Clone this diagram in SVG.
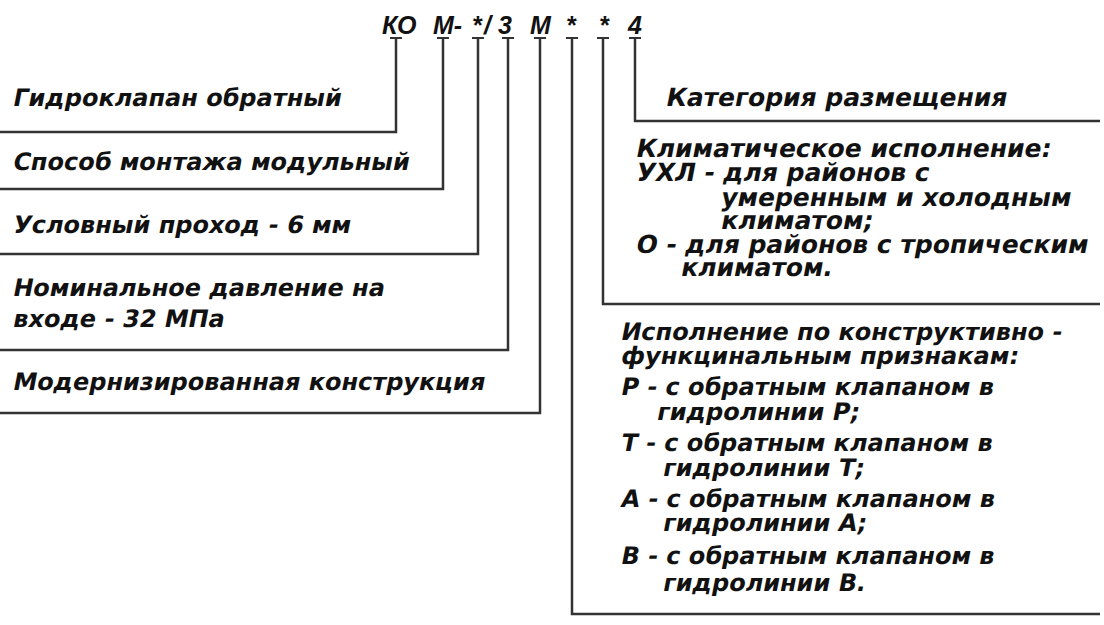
<svg xmlns="http://www.w3.org/2000/svg" width="1104" height="625" viewBox="0 0 1104 625">
<style>
.t{font-family:"DejaVu Sans","Liberation Sans",sans-serif;font-weight:bold;font-size:24px;fill:#111}
.w{font-size:25px}
.h{font-family:"Liberation Sans","DejaVu Sans",sans-serif;font-weight:bold;font-style:italic;font-size:25px;fill:#111}
.c{fill:none;stroke:#333;stroke-width:2.5}
.cap{fill:none;stroke:#333;stroke-width:2}
</style>
<rect width="1104" height="625" fill="#fff"/>
<g id="code">
<text class="h" x="382" y="34">КО</text>
<text class="h" x="433" y="34">М-</text>
<text class="h" x="472" y="34">*</text>
<text class="h" x="484" y="34">/</text>
<text class="h" x="498" y="34">3</text>
<text class="h" x="530" y="34">М</text>
<text class="h" x="566" y="34">*</text>
<text class="h" x="599" y="34">*</text>
<text class="h" x="628" y="34">4</text>
</g>
<g id="connectors">
<path class="cap" d="M390 38h12M437 38h12M472 38h12M502 38h12M534 38h12M566 38h12M597 38h12M629 38h12"/>
<path class="c" d="M396 38V132H0"/>
<path class="c" d="M443 38V189H0"/>
<path class="c" d="M478 38V254H0"/>
<path class="c" d="M508 38V350H0"/>
<path class="c" d="M540 38V413H0"/>
<path class="c" d="M572 38V614H1100"/>
<path class="c" d="M603 38V304H1100"/>
<path class="c" d="M635 38V121H1100"/>
</g>
<g id="n1"><text class="t" transform="translate(12,106) skewX(-11)">Гидроклапан обратный</text></g>
<g id="n2"><text class="t" transform="translate(12,170) skewX(-11)">Способ монтажа модульный</text></g>
<g id="n3"><text class="t" transform="translate(12,233) skewX(-11)">Условный проход - 6 мм</text></g>
<g id="n4"><text class="t" transform="translate(12,296) skewX(-11)">Номинальное давление на</text><text class="t" transform="translate(12,327) skewX(-11)">входе - 32 МПа</text></g>
<g id="n5"><text class="t" transform="translate(12,390) skewX(-11)">Модернизированная конструкция</text></g>
<g id="n6"><text class="t w" transform="translate(665,106) skewX(-11)">Категория размещения</text></g>
<g id="n7">
<text class="t w" transform="translate(635,157) skewX(-11)">Климатическое исполнение:</text>
<text class="t w" transform="translate(635,181) skewX(-11)">УХЛ - для районов с</text>
<text class="t w" transform="translate(720,206) skewX(-11)">умеренным и холодным</text>
<text class="t w" transform="translate(720,229) skewX(-11)">климатом;</text>
<text class="t w" transform="translate(635,253) skewX(-11)">О - для районов с тропическим</text>
<text class="t w" transform="translate(680,276) skewX(-11)">климатом.</text>
</g>
<g id="n8">
<text class="t" transform="translate(620,340) skewX(-11)">Исполнение по конструктивно -</text>
<text class="t" transform="translate(620,364) skewX(-11)">функцинальным признакам:</text>
<text class="t" transform="translate(620,395) skewX(-11)">Р - с обратным клапаном в</text>
<text class="t" transform="translate(656,420) skewX(-11)">гидролинии Р;</text>
<text class="t" transform="translate(620,451) skewX(-11)">Т - с обратным клапаном в</text>
<text class="t" transform="translate(662,476) skewX(-11)">гидролинии Т;</text>
<text class="t" transform="translate(620,507) skewX(-11)">А - с обратным клапаном в</text>
<text class="t" transform="translate(662,531) skewX(-11)">гидролинии А;</text>
<text class="t" transform="translate(620,564) skewX(-11)">В - с обратным клапаном в</text>
<text class="t" transform="translate(662,591) skewX(-11)">гидролинии В.</text>
</g>
</svg>
